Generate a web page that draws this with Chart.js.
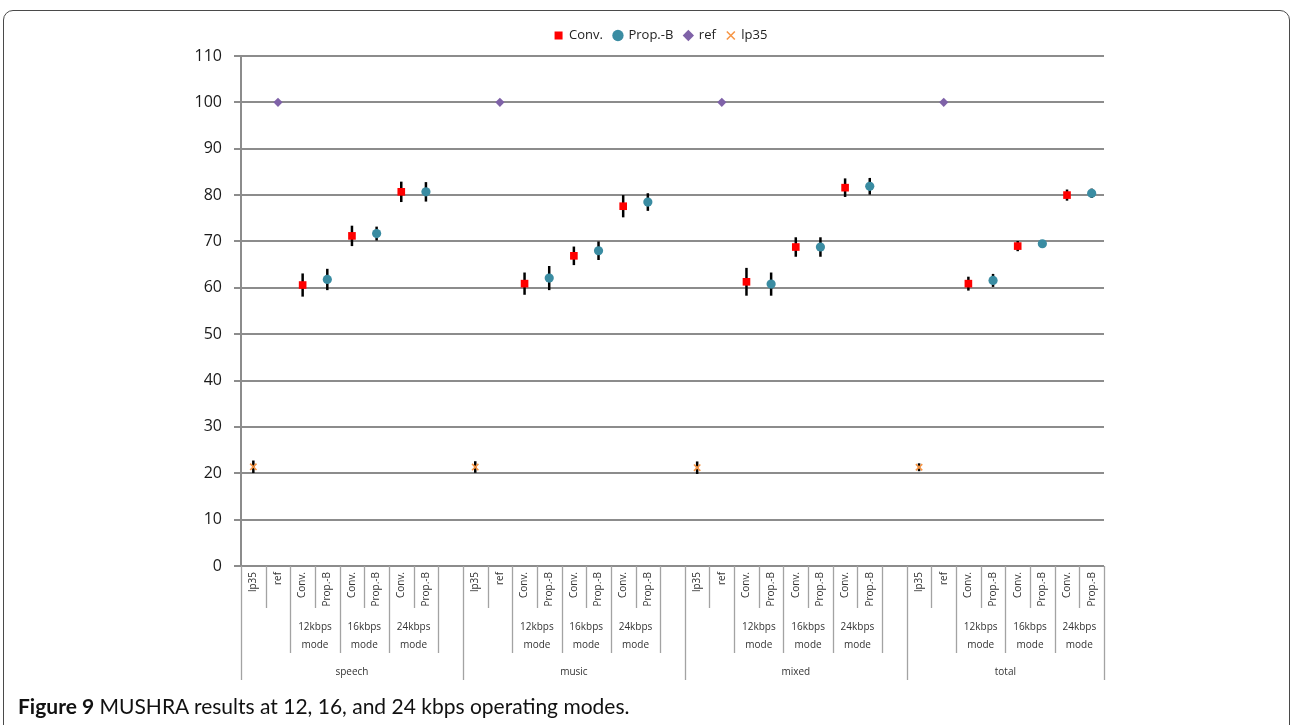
<!DOCTYPE html>
<html>
<head>
<meta charset="utf-8">
<title>MUSHRA results</title>
<script src="https://cdn.jsdelivr.net/npm/chart.js@4.4.1/dist/chart.umd.min.js"></script>
<style>
  html, body { margin: 0; padding: 0; background: #fff; }
  body { width: 1294px; height: 725px; position: relative; overflow: hidden; }
  #frame { position: absolute; left: 3px; top: 10px; width: 1285px; height: 760px; border: 1.5px solid #4a4a4a; border-radius: 10px; }
  #wrap { position: absolute; left: 0; top: 0; width: 1294px; height: 725px; }
  #caption { position: absolute; left: 18px; top: 693px; font: 21px Lato, sans-serif; color: #111; white-space: nowrap; }
  #caption b { font-weight: 700; }
</style>
</head>
<body>
<div id="frame"></div>
<div id="wrap"><canvas id="chart"></canvas></div>
<div id="caption"><b>Figure 9</b> MUSHRA results at 12, 16, and 24 kbps operating modes.</div>
<script>
// categories
const groupNames = ["speech", "music", "mixed", "total"];
const slotLabels = ["lp35", "ref", "Conv.", "Prop.-B", "Conv.", "Prop.-B", "Conv.", "Prop.-B"];
const modeLabels = ["12kbps mode", "16kbps mode", "24kbps mode"];
const slotsPerGroup = 9; // 8 labelled slots + 1 empty gap
const nSlots = 35;       // last group has no trailing gap

// values, per group: 12 / 16 / 24 kbps
const convMean = [60.6, 71.2, 80.7, 60.9, 66.9, 77.6, 61.3, 68.8, 81.6, 60.9, 69.0, 80.0];
const convErr = [2.5, 2.2, 2.2, 2.4, 2.0, 2.4, 3.0, 2.1, 2.0, 1.5, 1.1, 1.2];
const propMean = [61.8, 71.7, 80.7, 62.1, 68.0, 78.5, 60.8, 68.8, 81.9, 61.6, 69.5, 80.4];
const propErr = [2.3, 1.5, 2.1, 2.6, 2.0, 1.9, 2.5, 2.1, 1.8, 1.4, 0.8, 1.0];
const refMean = [100, 100, 100, 100];
const lp35Mean = [21.4, 21.35, 21.2, 21.3];
const lp35Err = [1.35, 1.25, 1.35, 0.85];

// slot position helpers
const modeSlot = (i, off) => Math.floor(i / 3) * slotsPerGroup + 2 + 2 * (i % 3) + off + 0.5;
const groupSlot = (g, off) => g * slotsPerGroup + off + 0.5;

// error bars drawn under the markers
const errorBars = {
  id: "errorBars",
  beforeDatasetsDraw(chart) {
    const ctx = chart.ctx;
    const ys = chart.scales.y;
    ctx.save();
    ctx.strokeStyle = "#000";
    ctx.lineWidth = 2.5;
    chart.data.datasets.forEach((ds, i) => {
      if (!ds.errors) return;
      const meta = chart.getDatasetMeta(i);
      ds.errors.forEach((e, j) => {
        if (!e) return;
        const x = meta.data[j].x;
        const v = ds.data[j].y;
        ctx.beginPath();
        ctx.moveTo(x, ys.getPixelForValue(v + e));
        ctx.lineTo(x, ys.getPixelForValue(v - e));
        ctx.stroke();
      });
    });
    ctx.restore();
  }
};

// three level category axis (slot / mode / group)
const categoryAxis = {
  id: "categoryAxis",
  afterDraw(chart) {
    const ctx = chart.ctx;
    const xs = chart.scales.x;
    const y0 = chart.chartArea.bottom;
    const lv1 = y0 + 42, lv2 = y0 + 87, lv3 = y0 + 114;
    ctx.save();
    ctx.strokeStyle = "#a3a3a3";
    ctx.lineWidth = 1.3;
    for (let b = 0; b <= nSlots; b++) {
      const k = b % slotsPerGroup;
      let bottom = k % 2 === 0 ? lv2 : lv1;
      if (k === 0 || b === nSlots) bottom = lv3;
      const x = Math.round(xs.getPixelForValue(b)) + 0.5;
      ctx.beginPath();
      ctx.moveTo(x, y0);
      ctx.lineTo(x, bottom);
      ctx.stroke();
    }

    ctx.fillStyle = "#333";
    ctx.font = "10px 'Open Sans'";
    groupNames.forEach((name, g) => {
      // rotated slot labels
      slotLabels.forEach((lab, s) => {
        ctx.save();
        ctx.translate(xs.getPixelForValue(groupSlot(g, s)), y0 + 6);
        ctx.rotate(-Math.PI / 2);
        ctx.textAlign = "right";
        ctx.textBaseline = "middle";
        ctx.fillText(lab, 0, 0);
        ctx.restore();
      });
      // mode labels
      ctx.textAlign = "center";
      ctx.textBaseline = "middle";
      modeLabels.forEach((lab, m) => {
        const cx = xs.getPixelForValue(g * slotsPerGroup + 3 + 2 * m);
        lab.split(" ").forEach((line, li) => ctx.fillText(line, cx, y0 + 61 + li * 18));
      });
      // group name
      const start = g * slotsPerGroup;
      const end = Math.min(start + slotsPerGroup, nSlots);
      ctx.fillText(name, xs.getPixelForValue((start + end) / 2), y0 + 106);
    });
    ctx.restore();
  }
};

const ctx = document.getElementById("chart").getContext("2d");
const chart = new Chart(ctx, {
  type: "scatter",
  data: {
    datasets: [
      {
        label: "Conv.",
        data: convMean.map((v, i) => ({ x: modeSlot(i, 0), y: v })),
        errors: convErr,
        pointStyle: "rect",
        pointRadius: 5.4,
        backgroundColor: "#ff0000",
        borderColor: "#ff0000",
        borderWidth: 0,
      },
      {
        label: "Prop.-B",
        data: propMean.map((v, i) => ({ x: modeSlot(i, 1), y: v })),
        errors: propErr,
        pointStyle: "circle",
        pointRadius: 4.6,
        backgroundColor: "#3a8ca2",
        borderColor: "#3a8ca2",
        borderWidth: 0,
      },
      {
        label: "ref",
        data: refMean.map((v, g) => ({ x: groupSlot(g, 1), y: v })),
        pointStyle: "rectRot",
        pointRadius: 4.6,
        backgroundColor: "#7f62a8",
        borderColor: "#7f62a8",
        borderWidth: 0,
      },
      {
        label: "lp35",
        data: lp35Mean.map((v, g) => ({ x: groupSlot(g, 0), y: v })),
        errors: lp35Err,
        pointStyle: "crossRot",
        pointRadius: 4.5,
        backgroundColor: "#f79646",
        borderColor: "#f79646",
        borderWidth: 1.6,
      },
    ],
  },
  options: {
    responsive: true,
    maintainAspectRatio: false,
    animation: false,
    layout: { padding: { top: 18, left: 28, right: 0, bottom: 159 } },
    scales: {
      x: { type: "linear", min: 0, max: nSlots, display: false },
      // spacer between legend and plot area
      x2: {
        type: "linear",
        position: "top",
        grid: { display: false },
        ticks: { display: false },
        border: { display: false },
        afterFit: (s) => { s.height = 4; },
      },
      y: {
        min: 0,
        max: 110,
        ticks: { stepSize: 10, padding: 12, color: "#1a1a1a", font: { family: "'Open Sans'", size: 16 } },
        grid: { color: "#8c8c8c", lineWidth: 2, tickLength: 7 },
        border: { color: "#8c8c8c", width: 2 },
        afterFit: (s) => { s.width = 213; },
      },
      // spacer on the right so the legend sits centred like the original
      y2: {
        position: "right",
        grid: { display: false },
        ticks: { display: false },
        border: { display: false },
        afterFit: (s) => { s.width = 190; },
      },
    },
    plugins: {
      legend: {
        position: "top",
        labels: {
          usePointStyle: true,
          boxWidth: 8,
          boxHeight: 8,
          padding: 11,
          color: "#222",
          font: { family: "'Open Sans'", size: 13 },
        },
      },
      tooltip: { enabled: false },
    },
  },
  plugins: [errorBars, categoryAxis],
});
</script>
</body>
</html>
